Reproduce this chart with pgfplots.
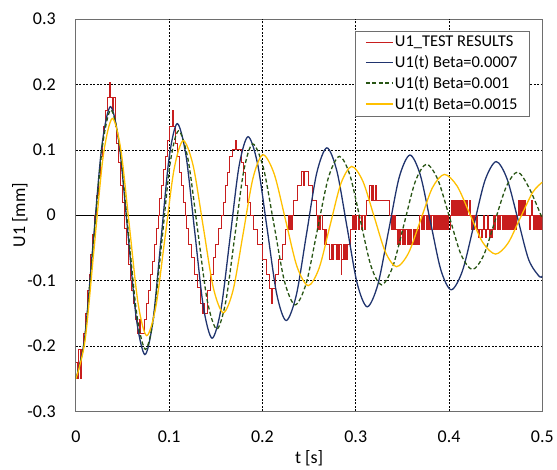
\documentclass[border=0pt]{standalone}
\usepackage{fontspec}
\setmainfont{Carlito}
\usepackage{pgfplots}
\pgfplotsset{compat=1.18}
\definecolor{cred}{RGB}{200,30,30}
\definecolor{cblue}{RGB}{32,52,110}
\definecolor{cgreen}{RGB}{40,85,20}
\definecolor{cyellow}{RGB}{255,192,0}
\definecolor{cframe}{RGB}{110,110,110}
\begin{document}
\begin{tikzpicture}
\begin{axis}[
  scale only axis, width=467bp, height=393bp,
  xmin=0, xmax=0.5, ymin=-0.3, ymax=0.3,
  xtick={0,0.1,0.2,0.3,0.4,0.5}, xticklabels={0,0.1,0.2,0.3,0.4,0.5},
  ytick={-0.3,-0.2,-0.1,0,0.1,0.2,0.3}, yticklabels={-0.3,-0.2,-0.1,0,0.1,0.2,0.3},
  extra x ticks={0.1,0.2,0.3,0.4}, extra x tick labels={},
  extra y ticks={-0.2,-0.1,0.1,0.2}, extra y tick labels={},
  extra tick style={grid=major},
  major grid style={black, dash pattern=on 2bp off 1.5bp, line width=0.6bp},
  major tick length=0pt,
  axis line style={cframe, line width=0.9bp},
  tick label style={font=\fontsize{18bp}{20bp}\selectfont},
  xticklabel style={anchor=center, yshift=-25bp},
  yticklabel style={anchor=east, inner sep=0pt, xshift=-20bp},
  xlabel={t [s]}, ylabel={U1 [mm]},
  every axis x label/.style={at={([yshift=-47bp]axis description cs:0.5,0)}, anchor=center, font=\fontsize{18bp}{20bp}\selectfont},
  every axis y label/.style={at={([xshift=-56bp]axis description cs:0,0.5)}, anchor=center, rotate=90, font=\fontsize{18bp}{20bp}\selectfont},
  legend cell align=left,
  legend style={at={(1,1)}, anchor=north east, xshift=-13bp, yshift=-12bp, draw=cframe,
    font=\fontsize{16.5bp}{18bp}\selectfont, inner xsep=10bp, inner ysep=3.5bp, row sep=4bp,
    nodes={inner sep=1.6bp}},
  legend image code/.code={\draw[#1] (0bp,0bp) -- (27bp,0bp);},
]
\addplot[black, line width=0.9bp, forget plot] coordinates {(0,0) (0.5,0)};
\addplot[cred, line width=0.9bp, const plot] coordinates {
(0,-0.225) (0.0015,-0.25) (0.003,-0.205) (0.0045,-0.25) (0.006,-0.205) (0.008,-0.18)
(0.010,-0.15) (0.012,-0.115) (0.014,-0.09) (0.016,-0.06) (0.018,-0.03) (0.020,0)
(0.022,0.03) (0.024,0.06) (0.026,0.09) (0.028,0.115) (0.030,0.135) (0.032,0.16)
(0.034,0.18) (0.0362,0.2025) (0.0372,0.18) (0.0395,0.16) (0.0405,0.18) (0.042,0.135)
(0.044,0.11) (0.046,0.08) (0.048,0.045) (0.050,0.02) (0.052,-0.02) (0.054,-0.045)
(0.056,-0.075) (0.058,-0.1) (0.060,-0.115) (0.062,-0.135) (0.064,-0.16) (0.066,-0.18)
(0.068,-0.16) (0.0695,-0.18) (0.0735,-0.16) (0.0755,-0.135) (0.078,-0.115) (0.080,-0.09)
(0.082,-0.07) (0.084,-0.045) (0.086,-0.02) (0.088,0) (0.090,0.025) (0.092,0.045)
(0.094,0.07) (0.096,0.09) (0.098,0.115) (0.100,0.135) (0.1035,0.16) (0.1045,0.135)
(0.107,0.11) (0.109,0.09) (0.111,0.065) (0.113,0.045) (0.115,0.02) (0.117,0)
(0.119,-0.02) (0.121,-0.045) (0.124,-0.065) (0.127,-0.09) (0.130,-0.11) (0.133,-0.135)
(0.1355,-0.15) (0.1365,-0.135) (0.1375,-0.15) (0.1405,-0.115) (0.144,-0.09) (0.147,-0.065)
(0.150,-0.045) (0.153,-0.02) (0.156,0) (0.158,0.02) (0.160,0.045) (0.162,0.065)
(0.165,0.09) (0.168,0.1) (0.1715,0.115) (0.1725,0.1) (0.178,0.08) (0.180,0.065)
(0.182,0.045) (0.184,0.02) (0.187,0) (0.190,-0.0225) (0.195,-0.045) (0.200,-0.0675)
(0.2045,-0.09) (0.208,-0.1125) (0.2100,-0.135) (0.2108,-0.1125) (0.2140,-0.09) (0.2175,-0.0675)
(0.221,-0.045) (0.2245,-0.0225) (0.2275,0) (0.2285,-0.0225) (0.2295,0) (0.2310,-0.0225)
(0.2320,0) (0.2335,0.0225) (0.2375,0.045) (0.2415,0.0675) (0.2435,0.045) (0.2445,0.0675)
(0.2495,0.045) (0.2535,0.0225) (0.2575,0) (0.2590,-0.0225) (0.2600,0) (0.2615,-0.0225)
(0.2625,0) (0.2640,-0.0225) (0.2660,-0.045) (0.2670,-0.0225) (0.2685,-0.045) (0.2720,-0.0675)
(0.2735,-0.045) (0.2745,-0.0675) (0.2760,-0.045) (0.2790,-0.0675) (0.2800,-0.045) (0.2815,-0.0675)
(0.2830,-0.045) (0.2845,-0.09) (0.2852,-0.0675) (0.2865,-0.045) (0.2875,-0.0675) (0.2890,-0.045)
(0.2905,-0.0675) (0.2915,-0.045) (0.2940,-0.0225) (0.2960,0) (0.2970,-0.0225) (0.2985,0)
(0.3000,-0.0225) (0.3010,0) (0.3025,-0.0225) (0.3040,0) (0.3060,-0.0225) (0.3070,0)
(0.3095,-0.0225) (0.3105,0) (0.3120,0.0225) (0.3150,0.045) (0.3165,0.0225) (0.3175,0.045)
(0.3195,0.0225) (0.3210,0.045) (0.3225,0.0225) (0.3365,0) (0.3380,-0.0225) (0.3390,0)
(0.3405,-0.0225) (0.3415,0) (0.3430,-0.0225) (0.3445,-0.045) (0.3455,-0.0225) (0.3470,-0.045)
(0.3480,-0.0225) (0.3500,-0.045) (0.3510,-0.0225) (0.3525,-0.045) (0.3535,-0.0225) (0.3550,-0.045)
(0.3560,-0.0225) (0.3575,-0.045) (0.3590,-0.0225) (0.3600,-0.045) (0.3615,-0.0225) (0.3625,-0.045)
(0.3640,-0.0225) (0.3650,-0.045) (0.3665,-0.0225) (0.3675,-0.045) (0.3686,0) (0.3700,-0.0225)
(0.3710,0) (0.3725,-0.0225) (0.3735,0) (0.3755,-0.0225) (0.3765,0) (0.3780,-0.0225)
(0.3790,0) (0.3805,-0.0225) (0.3815,0) (0.3830,-0.0225) (0.3838,0) (0.3848,-0.0225)
(0.3856,0) (0.3866,-0.0225) (0.3874,0) (0.3884,-0.0225) (0.3892,0) (0.3902,-0.0225)
(0.3910,0) (0.3920,-0.0225) (0.3928,0) (0.3940,-0.0225) (0.3950,0) (0.3962,-0.0225)
(0.3972,0) (0.3985,-0.0225) (0.3995,0) (0.4010,-0.0225) (0.4020,0) (0.4025,0.0225)
(0.4033,0) (0.4040,0.0225) (0.4048,0) (0.4055,0.0225) (0.4063,0) (0.4070,0.0225)
(0.4078,0) (0.4085,0.0225) (0.4093,0) (0.4100,0.0225) (0.4108,0) (0.4115,0.0225)
(0.4123,0) (0.4130,0.0225) (0.4138,0) (0.4145,0.0225) (0.4153,0) (0.4165,0.0225)
(0.4175,0) (0.4190,0.0225) (0.4200,0) (0.4215,0.0225) (0.4225,0) (0.4240,-0.0225)
(0.4250,0) (0.4265,-0.0225) (0.4275,0) (0.4290,-0.0225) (0.4300,0) (0.4310,-0.0225)
(0.4320,-0.034) (0.4330,-0.0225) (0.4345,-0.034) (0.4355,-0.0225) (0.4365,0) (0.4375,-0.0225)
(0.4390,-0.034) (0.4400,-0.0225) (0.4410,0) (0.4420,-0.0225) (0.4435,-0.034) (0.4445,-0.0225)
(0.4455,-0.034) (0.4465,-0.0225) (0.4475,0) (0.4490,-0.0225) (0.4500,0) (0.4520,-0.0225)
(0.4530,0) (0.4545,-0.0225) (0.4555,0) (0.4570,-0.0225) (0.4578,0) (0.4585,-0.0225)
(0.4593,0) (0.4600,-0.0225) (0.4608,0) (0.4615,-0.0225) (0.4623,0) (0.4630,-0.0225)
(0.4638,0) (0.4645,-0.0225) (0.4653,0) (0.4660,-0.0225) (0.4668,0) (0.4675,-0.0225)
(0.4683,0) (0.4690,-0.0225) (0.4698,0) (0.4705,-0.0225) (0.4713,0) (0.4720,-0.0225)
(0.4728,0) (0.4745,0.0225) (0.4755,0) (0.4770,0.0225) (0.4778,0) (0.4790,0.0225)
(0.4798,0) (0.4810,0.0225) (0.4820,0) (0.4860,-0.0225) (0.4870,0) (0.4885,0.0225)
(0.4895,0) (0.4910,-0.0225) (0.4918,0) (0.4925,-0.0225) (0.4933,0) (0.4940,-0.0225)
(0.4948,0) (0.4955,-0.0225) (0.4963,0) (0.4970,-0.0225) (0.4978,0) (0.4985,-0.0225)
(0.4993,0) (0.5000,-0.0225)
};
\addlegendentry{U1\_TEST RESULTS}
\addplot[cblue, line width=1.3bp, smooth] coordinates {
(0,-0.25) (0.00925,-0.189) (0.0185,-0.042) (0.02775,0.105) (0.037,0.166) (0.04625,0.1105)
(0.0555,-0.0235) (0.06475,-0.1575) (0.074,-0.213) (0.08265,-0.161) (0.0913,-0.0365) (0.09995,0.088)
(0.1086,0.140) (0.11795,0.092) (0.1273,-0.024) (0.13665,-0.140) (0.146,-0.188) (0.1556,-0.143)
(0.1653,-0.034) (0.1749,0.075) (0.1845,0.120) (0.1947,0.079) (0.2050,-0.0205) (0.2152,-0.120)
(0.2254,-0.161) (0.2363,-0.122) (0.2472,-0.029) (0.2581,0.064) (0.269,0.103) (0.2798,0.0674)
(0.2907,-0.0185) (0.3015,-0.104) (0.3123,-0.140) (0.3237,-0.106) (0.3352,-0.024) (0.3466,0.058)
(0.358,0.092) (0.3691,0.062) (0.3802,-0.011) (0.3913,-0.084) (0.4024,-0.114) (0.4144,-0.085)
(0.4265,-0.016) (0.4385,0.053) (0.4505,0.082) (0.4621,0.056) (0.4738,-0.006) (0.4854,-0.068)
(0.497,-0.094) (0.5,-0.093)
};
\addlegendentry{U1(t) Beta=0.0007}
\addplot[cgreen, line width=1.3bp, smooth, dash pattern=on 4bp off 2.5bp] coordinates {
(0,-0.25) (0.00935,-0.190) (0.0187,-0.0445) (0.02805,0.101) (0.0374,0.161) (0.0467,0.107)
(0.05595,-0.022) (0.0652,-0.151) (0.0745,-0.205) (0.08338,-0.156) (0.09225,-0.038) (0.1011,0.080)
(0.110,0.129) (0.12025,0.085) (0.1305,-0.0225) (0.14075,-0.130) (0.151,-0.174) (0.1606,-0.1325)
(0.1703,-0.0325) (0.1799,0.0675) (0.1895,0.109) (0.2009,0.073) (0.2123,-0.014) (0.2236,-0.101)
(0.235,-0.137) (0.2469,-0.104) (0.2587,-0.0235) (0.2706,0.057) (0.2824,0.090) (0.2937,0.0615)
(0.3050,-0.008) (0.3163,-0.0775) (0.3276,-0.1065) (0.3396,-0.079) (0.3517,-0.014) (0.3637,0.051)
(0.3757,0.078) (0.388,0.0545) (0.4004,-0.0025) (0.4127,-0.0595) (0.425,-0.083) (0.4372,-0.061)
(0.4493,-0.0085) (0.4615,0.044) (0.4736,0.066) (0.4861,0.041) (0.5,-0.005)
};
\addlegendentry{U1(t) Beta=0.001}
\addplot[cyellow, line width=1.3bp, smooth] coordinates {
(0,-0.25) (0.00975,-0.192) (0.0195,-0.051) (0.02925,0.090) (0.039,0.148) (0.04823,0.0994)
(0.05745,-0.018) (0.06668,-0.135) (0.0759,-0.184) (0.08568,-0.140) (0.09545,-0.035) (0.1052,0.070)
(0.115,0.114) (0.12575,0.0755) (0.1365,-0.0175) (0.14725,-0.1105) (0.158,-0.149) (0.1686,-0.114)
(0.1793,-0.028) (0.1899,0.057) (0.2005,0.0924) (0.2126,0.063) (0.2248,-0.0076) (0.2369,-0.078)
(0.249,-0.1076) (0.2607,-0.081) (0.2723,-0.0165) (0.284,0.048) (0.2956,0.0746) (0.3076,0.052)
(0.3197,-0.002) (0.3317,-0.056) (0.3437,-0.0787) (0.3565,-0.058) (0.3694,-0.008) (0.3822,0.042)
(0.395,0.0624) (0.4087,0.0445) (0.4224,0.0015) (0.4361,-0.0415) (0.4498,-0.0594) (0.4631,-0.043)
(0.4764,-0.004) (0.4897,0.035) (0.5,0.0505)
};
\addlegendentry{U1(t) Beta=0.0015}
\end{axis}
\path ([xshift=-76bp,yshift=-57bp]current axis.south west) rectangle ([xshift=14bp,yshift=19bp]current axis.north east);
\end{tikzpicture}
\end{document}
